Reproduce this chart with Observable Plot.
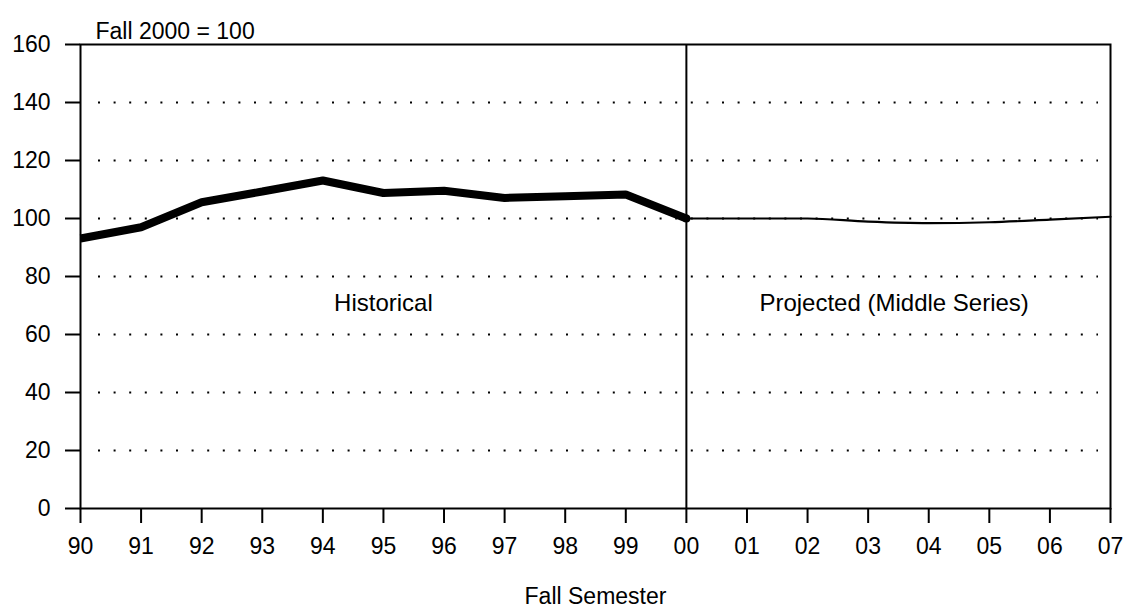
<!DOCTYPE html>
<html>
<head>
<meta charset="utf-8">
<script src="https://cdn.jsdelivr.net/npm/d3@7"></script>
<script src="https://cdn.jsdelivr.net/npm/@observablehq/plot@0.6"></script>
<style>
  html, body { margin: 0; padding: 0; background: #fff; }
  svg { font-family: "Liberation Sans", Arial, Helvetica, sans-serif; }
</style>
</head>
<body>
<div id="chart"></div>
<script>
const years = ["90","91","92","93","94","95","96","97","98","99","00","01","02","03","04","05","06","07"];
const historicalYears = ["90","91","92","93","94","95","96","97","98","99","00"];
const historicalValues = [93.1, 97.0, 105.6, 109.3, 113.1, 108.8, 109.6, 107.1, 107.7, 108.3, 100];
const projectedYears = ["00","01","02","03","04","05","06","07"];
const projectedValues = [100, 100, 100, 98.9, 98.4, 98.7, 99.6, 100.6];
const yTicks = [0, 20, 40, 60, 80, 100, 120, 140, 160];
const gridValues = [20, 40, 60, 80, 100, 120, 140];
const dividerYear = ["00"];
const indexLabel = ["Fall 2000 = 100"];
const xTitle = ["Fall Semester"];
const historicalLabel = [{year: "95", text: "Historical"}];
const projectedLabel = [{year: "03", text: "Projected (Middle Series)"}];

const historical = historicalYears.map((y, i) => ({year: y, value: historicalValues[i]}));
const projected = projectedYears.map((y, i) => ({year: y, value: projectedValues[i]}));

const FS = 23;

const chart = Plot.plot({
  width: 1130,
  height: 610,
  marginLeft: 80,
  marginRight: 20,
  marginTop: 44,
  marginBottom: 102,
  style: {fontSize: FS + "px", fontFamily: "'Liberation Sans', Arial, Helvetica, sans-serif", color: "#000", background: "#fff"},
  x: {type: "point", domain: years, padding: 0, inset: 0, round: false},
  y: {domain: [0, 160], inset: 0},
  marks: [
    Plot.ruleY(gridValues, {stroke: "#000", strokeWidth: 2, strokeDasharray: "2,13.6", insetLeft: 18, insetRight: 12}),
    Plot.ruleX(dividerYear, {stroke: "#000", strokeWidth: 2}),
    Plot.frame({stroke: "#000", strokeWidth: 2}),
    Plot.axisY({ticks: yTicks, tickSize: 15, tickPadding: 15, label: null, stroke: "#000", strokeWidth: 2, fontSize: FS}),
    Plot.axisX({ticks: years, tickSize: 15, tickPadding: 14, label: null, stroke: "#000", strokeWidth: 2, fontSize: FS}),
    Plot.line(projected, {x: "year", y: "value", stroke: "#000", strokeWidth: 2.2, curve: "monotone-x"}),
    Plot.line(historical, {x: "year", y: "value", stroke: "#000", strokeWidth: 8, strokeLinejoin: "miter", strokeLinecap: "butt"}),
    Plot.dot(historical.slice(-1), {x: "year", y: "value", r: 4, fill: "#000"}),
    Plot.text(historicalLabel, {x: "year", text: "text", frameAnchor: "middle", dy: 27, fontSize: 24, fill: "#000"}),
    Plot.text(projectedLabel, {x: "year", text: "text", frameAnchor: "middle", dx: 26, dy: 27, fontSize: 24, fill: "#000"}),
    Plot.text(indexLabel, {text: d => d, frameAnchor: "top-left", dx: 15, dy: -22, textAnchor: "start", fontSize: FS, fill: "#000"}),
    Plot.text(xTitle, {text: d => d, frameAnchor: "bottom", dy: 95, fontSize: FS, fill: "#000"})
  ]
});
document.getElementById("chart").appendChild(chart);
</script>
</body>
</html>
